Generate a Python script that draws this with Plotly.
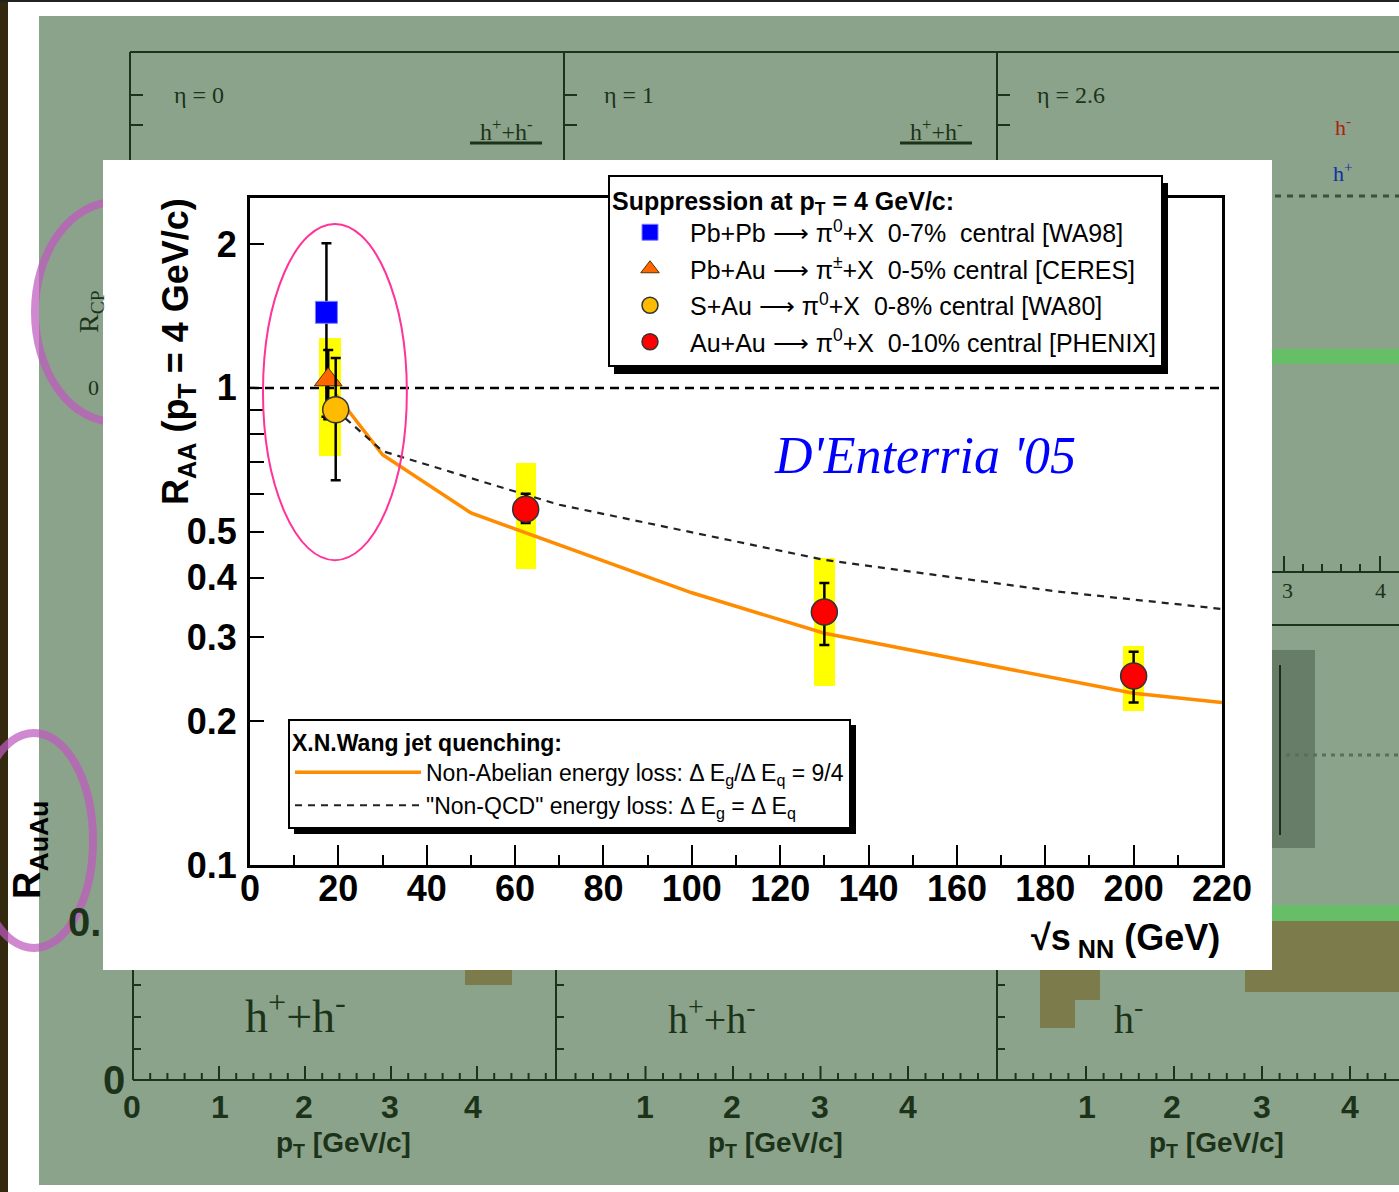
import plotly.graph_objects as go

# ---------------- data ----------------
wa98_x = [17.3]
wa98_y = [1.44]
wa98_up = [0.57]
wa98_dn = [0.57]

ceres_x = [17.7]
ceres_y = [1.04]
ceres_up = [0.16]
ceres_dn = [0.18]

wa80_x = [19.4]
wa80_y = [0.90]
wa80_up = [0.255]
wa80_dn = [0.26]

phenix_x = [62.4, 130, 200]
phenix_y = [0.557, 0.339, 0.249]
phenix_hi = [0.60, 0.39, 0.280]
phenix_lo = [0.521, 0.289, 0.219]

band_x = [18.1, 62.4, 130, 200]
band_lo = [0.72, 0.417, 0.237, 0.210]
band_hi = [1.27, 0.697, 0.440, 0.288]
band_w = [5.0, 4.6, 4.6, 4.6]

nonab_x = [19.4, 30, 50, 65, 100, 130, 181, 200, 220]
nonab_y = [0.97, 0.724, 0.547, 0.487, 0.372, 0.306, 0.248, 0.229, 0.219]

nonqcd_x = [19.4, 30, 62.4, 70, 130, 182, 220]
nonqcd_y = [0.90, 0.737, 0.597, 0.569, 0.436, 0.375, 0.344]

ref_x = [0, 220]
ref_y = [1, 1]

x_ticks = list(range(0, 221, 20))
x_minor = list(range(10, 220, 20))
y_tickvals = [0.1, 0.2, 0.3, 0.4, 0.5, 0.6, 0.7, 0.8, 0.9, 1, 2]
y_ticktext = ["0.1", "0.2", "0.3", "0.4", "0.5", "", "", "", "", "1", "2"]

# ---------------- layout helpers ----------------
W, H = 1399, 1192
L, R, T, B = 250, 1222, 198, 865


def PX(x):
    return (x - L) / (R - L)


def PY(y):
    return (B - y) / (B - T)


SANS = "Liberation Sans, Arial, sans-serif"
SERIF = "Liberation Serif, Times New Roman, serif"
DARK = "#1c3319"
BG = "#8ca38b"
ARROW = "⟶"

fig = go.Figure()

# systematic bands
fig.add_trace(go.Bar(
    x=band_x, y=[h - l for h, l in zip(band_hi, band_lo)], base=band_lo,
    width=band_w, marker=dict(color="#ffff00", line=dict(width=0)),
    showlegend=False, hoverinfo="skip"))

# reference line at 1
fig.add_trace(go.Scatter(
    x=ref_x, y=ref_y, mode="lines",
    line=dict(color="black", width=2.5, dash="9px,6px"),
    showlegend=False, hoverinfo="skip"))

# theory curves
fig.add_trace(go.Scatter(
    x=nonab_x, y=nonab_y, mode="lines",
    line=dict(color="#ff8c00", width=3.5),
    name="Non-Abelian energy loss: Δ E<sub>g</sub>/Δ E<sub>q</sub> = 9/4",
    legend="legend2"))
fig.add_trace(go.Scatter(
    x=nonqcd_x, y=nonqcd_y, mode="lines",
    line=dict(color="#222222", width=2.2, dash="7px,6px"),
    name="\"Non-QCD\" energy loss: Δ E<sub>g</sub> = Δ E<sub>q</sub>",
    legend="legend2"))

err = dict(color="black", thickness=2.5, width=5)

fig.add_trace(go.Scatter(
    x=wa98_x, y=wa98_y, mode="markers",
    marker=dict(symbol="square", size=22, color="#0000ff",
                line=dict(color="#8080ff", width=1)),
    error_y=dict(type="data", array=wa98_up, arrayminus=wa98_dn, **err),
    name=f"Pb+Pb {ARROW} π<sup>0</sup>+X  0-7%  central [WA98]",
    legend="legend", legendgroup="a"))
fig.add_trace(go.Scatter(
    x=ceres_x, y=ceres_y, mode="markers",
    marker=dict(symbol="triangle-up", size=24, color="#ff6600",
                line=dict(color="#553300", width=1)),
    error_y=dict(type="data", array=ceres_up, arrayminus=ceres_dn, **err),
    name=f"Pb+Au {ARROW} π<sup>±</sup>+X  0-5% central [CERES]",
    legend="legend", legendgroup="b"))
fig.add_trace(go.Scatter(
    x=wa80_x, y=wa80_y, mode="markers",
    marker=dict(symbol="circle", size=26, color="#ffbb00",
                line=dict(color="#333333", width=1.5)),
    error_y=dict(type="data", array=wa80_up, arrayminus=wa80_dn, **err),
    name=f"S+Au {ARROW} π<sup>0</sup>+X  0-8% central [WA80]",
    legend="legend", legendgroup="c"))
fig.add_trace(go.Scatter(
    x=phenix_x, y=phenix_y, mode="markers",
    marker=dict(symbol="circle", size=26, color="#ff0000",
                line=dict(color="#333333", width=1.5)),
    error_y=dict(type="data",
                 array=[h - y for h, y in zip(phenix_hi, phenix_y)],
                 arrayminus=[y - l for y, l in zip(phenix_y, phenix_lo)],
                 **err),
    name=f"Au+Au {ARROW} π<sup>0</sup>+X  0-10% central [PHENIX]",
    legend="legend", legendgroup="d"))

# ---------------- background decoration (shapes) ----------------
shapes = []


def rect(x0, y0, x1, y1, fill, line_w=0, line_c=None, layer="below"):
    shapes.append(dict(type="rect", xref="paper", yref="paper",
                       x0=PX(x0), x1=PX(x1), y0=PY(y1), y1=PY(y0),
                       fillcolor=fill, layer=layer,
                       line=dict(width=line_w, color=line_c or fill)))


def seg(x0, y0, x1, y1, color=DARK, width=2, dash=None, layer="below"):
    shapes.append(dict(type="line", xref="paper", yref="paper",
                       x0=PX(x0), x1=PX(x1), y0=PY(y0), y1=PY(y1),
                       layer=layer, line=dict(color=color, width=width,
                                              dash=dash or "solid")))


def ell(x0, y0, x1, y1, color, width):
    shapes.append(dict(type="circle", xref="paper", yref="paper",
                       x0=PX(x0), x1=PX(x1), y0=PY(y1), y1=PY(y0),
                       layer="below", line=dict(color=color, width=width)))


rect(39, 16, 1420, 1185, BG)
rect(0, 0, 8, 1192, "#33290f")
seg(0, 1, 1399, 1, "#222222", 2)

# upper panels
seg(130, 52, 1399, 52)
for xv in (130, 564, 997):
    seg(xv, 52, xv, 165)
    seg(xv, 95, xv + 13, 95)
    seg(xv, 125, xv + 13, 125)
seg(470, 143, 542, 143, DARK, 3)
seg(900, 143, 972, 143, DARK, 3)
seg(1275, 196, 1399, 196, "#3c503a", 3, "6px,6px")
rect(1272, 349, 1399, 364, "rgba(90,200,90,0.75)")
seg(1272, 572, 1399, 572)
for xv in (1284, 1380):
    seg(xv, 572, xv, 556)
for xv in (1303, 1322, 1341, 1360):
    seg(xv, 572, xv, 564)
seg(1272, 625, 1399, 625)
rect(1272, 650, 1315, 848, "rgba(95,115,95,0.8)")
seg(1280, 665, 1280, 835, "#1c2a1a", 2)
seg(1286, 755, 1399, 755, "#5a6e58", 3, "4px,5px")
rect(1272, 905, 1399, 921, "rgba(90,200,90,0.75)")
rect(1245, 921, 1399, 992, "#7b7b4c")

# lower panels
seg(133, 1080, 1399, 1080)
for xv in (133, 556, 997):
    seg(xv, 965, xv, 1080)
    for yv in (985, 1017, 1049):
        seg(xv, yv, xv + 8, yv)
for start, unit in ((133, 86), (558, 87.5), (998, 88)):
    k = 1
    while start + k * unit / 5 < 1399 and k <= 24:
        xv = start + k * unit / 5
        seg(xv, 1080, xv, 1066 if k % 5 == 0 else 1073)
        k += 1
rect(465, 966, 512, 985, "#7b7b4c")
rect(1040, 966, 1100, 1000, "#7b7b4c")
rect(1040, 1000, 1075, 1028, "#7b7b4c")

# purple circles
ell(35, 202, 195, 422, "rgba(190,90,190,0.72)", 8)
ell(-25, 733, 93, 948, "rgba(190,90,190,0.72)", 8)

# white box behind main chart
rect(103, 160, 1272, 970, "white")

# legend shadows
rect(614, 183, 1168, 374, "black", layer="above")
rect(294, 725, 856, 834, "black", layer="above")

# ellipse around SPS data
shapes.append(dict(type="circle", xref="x", yref="y domain",
                   x0=2.94, x1=35.5, y0=0.457, y1=0.961, layer="above",
                   line=dict(color="#ff3399", width=2)))

# ---------------- annotations ----------------
ann = []


def txt(x, y, s, size, color="black", family=SANS, weight="normal",
        xa="center", ya="middle", angle=0, italic=False):
    ann.append(dict(x=PX(x), y=PY(y), xref="paper", yref="paper", text=s,
                    showarrow=False, xanchor=xa, yanchor=ya, textangle=angle,
                    font=dict(size=size, color=color, family=family,
                              weight=weight,
                              style="italic" if italic else "normal")))


txt(172, 95, "η = 0", 24, DARK, SERIF, xa="left")
txt(602, 95, "η = 1", 24, DARK, SERIF, xa="left")
txt(1035, 95, "η = 2.6", 24, DARK, SERIF, xa="left")
txt(506, 130, "h<sup>+</sup>+h<sup>-</sup>", 24, DARK, SERIF)
txt(936, 130, "h<sup>+</sup>+h<sup>-</sup>", 24, DARK, SERIF)
txt(1343, 126, "h<sup>-</sup>", 22, "#b02010", SERIF)
txt(1343, 172, "h<sup>+</sup>", 22, "#1030a0", SERIF)
txt(1287, 590, "3", 22, DARK, SERIF)
txt(1380, 590, "4", 22, DARK, SERIF)
txt(90, 312, "R<sub>CP</sub>", 28, DARK, SERIF, angle=-90)
txt(93, 387, "0", 22, DARK, SERIF)
txt(30, 850, "R<sub>AuAu</sub>", 38, "black", SANS, "bold", angle=-90)
txt(84, 922, "0.", 40, DARK, SANS, "bold")
txt(295, 1013, "h<sup>+</sup>+h<sup>-</sup>", 46, DARK, SERIF)
txt(712, 1016, "h<sup>+</sup>+h<sup>-</sup>", 40, DARK, SERIF)
txt(1128, 1016, "h<sup>-</sup>", 40, DARK, SERIF)
txt(114, 1080, "0", 40, DARK, SANS, "bold")
for xv, s in ((132, "0"), (220, "1"), (304, "2"), (390, "3"), (473, "4"),
              (645, "1"), (732, "2"), (820, "3"), (908, "4"),
              (1087, "1"), (1172, "2"), (1262, "3"), (1350, "4")):
    txt(xv, 1107, s, 32, DARK, SANS, "bold")
for xv in (343, 775, 1216):
    txt(xv, 1144, "p<sub>T</sub> [GeV/c]", 28, DARK, SANS, "bold")

# main chart labels
txt(178, 352, "R<sub>AA</sub> (p<sub>T</sub> = 4 GeV/c)", 36, "black", SANS,
    "bold", angle=-90)
txt(1222, 940, "√s<sub> NN</sub> (GeV)", 36, "black", SANS, "bold",
    xa="right")
txt(925, 455, "D'Enterria '05", 52, "#0000ff", SERIF, italic=True)

fig.update_layout(
    width=W, height=H,
    margin=dict(l=L, r=W - R, t=T, b=H - B),
    paper_bgcolor="white", plot_bgcolor="white",
    barmode="overlay", bargap=0,
    shapes=shapes, annotations=ann,
    font=dict(family=SANS, color="black"),
    legend=dict(
        x=PX(608), y=PY(175), xanchor="left", yanchor="top",
        bgcolor="white", bordercolor="black", borderwidth=2,
        font=dict(size=25, family=SANS),
        title=dict(text="Suppression at p<sub>T</sub> = 4 GeV/c:",
                   font=dict(size=25, family=SANS, weight="bold")),
        traceorder="grouped", tracegroupgap=1, itemwidth=70),
    legend2=dict(
        x=PX(288), y=PY(719), xanchor="left", yanchor="top",
        bgcolor="white", bordercolor="black", borderwidth=2,
        font=dict(size=23, family=SANS),
        title=dict(text="X.N.Wang jet quenching:",
                   font=dict(size=23, family=SANS, weight="bold")),
        itemwidth=126),
    xaxis=dict(
        range=[0, 220], tickmode="array", tickvals=x_ticks,
        ticks="inside", ticklen=20, tickwidth=2, tickcolor="black",
        showline=True, linewidth=3, linecolor="black", mirror=True,
        showgrid=False, zeroline=False, ticklabelstandoff=-10,
        tickfont=dict(size=36, family=SANS, weight="bold"),
        minor=dict(tickmode="array", tickvals=x_minor, ticks="inside",
                   ticklen=10, tickwidth=2, tickcolor="black",
                   showgrid=False)),
    yaxis=dict(
        type="log", range=[-1, 0.398], tickmode="array",
        tickvals=y_tickvals, ticktext=y_ticktext,
        ticks="inside", ticklen=14, tickwidth=2, tickcolor="black",
        showline=True, linewidth=3, linecolor="black", mirror=True,
        showgrid=False, zeroline=False, ticklabelstandoff=3,
        tickfont=dict(size=36, family=SANS, weight="bold")),
)

fig.write_html("out.html")
